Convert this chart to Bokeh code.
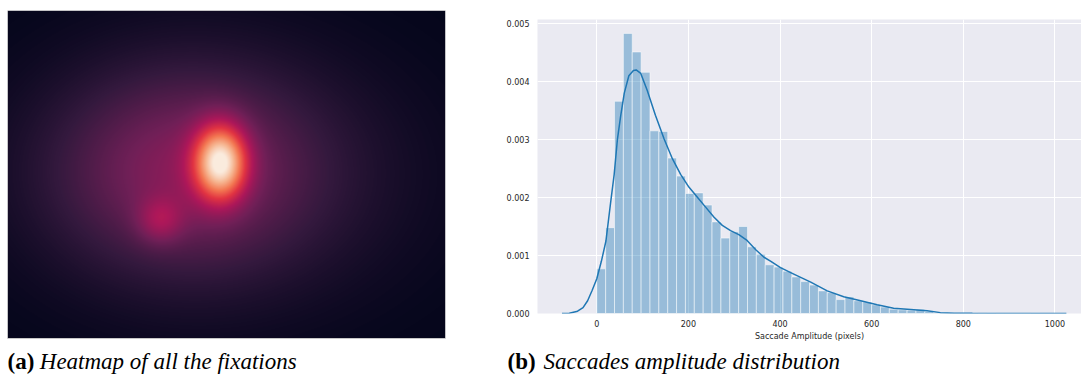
import numpy as np
from bokeh.plotting import figure
from bokeh.layouts import row, column
from bokeh.models import Range1d, FixedTicker, PrintfTickFormatter, LinearColorMapper
from bokeh.core.properties import value
from bokeh.embed import file_html
from bokeh.resources import INLINE

# ---------------- data: saccade amplitude histogram (density) ----------------
BIN_START = 0.0
BIN_WIDTH = 19.35
BIN_DENSITY = [0.00077, 0.00148, 0.00366, 0.00483, 0.00451, 0.00416, 0.00315, 0.00314,
               0.00268, 0.00237, 0.00207, 0.00208, 0.00187, 0.00158, 0.00130, 0.00141,
               0.00150, 0.00115, 0.00102, 0.00084, 0.00080, 0.00073, 0.00063, 0.00055,
               0.00049, 0.00039, 0.00036, 0.00024, 0.00029, 0.00022, 0.00020, 0.00015,
               0.00011, 0.000075, 0.000063, 0.000058, 0.000075, 0.000035, 0.00001, 0.00001,
               0.000005, 0.000005, 0.000005, 0.0, 0.000005, 0.0, 0.0, 0.0, 0.0, 0.000005]
KDE_X = [-76, -60, -42, -30, -20, -10, 0, 10, 20, 30, 38, 45, 52, 60, 70, 80, 86, 96,
         110, 128, 147, 165, 183, 201, 220, 238, 256, 274, 292, 310, 328, 347, 365, 380,
         401, 430, 467, 503, 539, 576, 612, 648, 685, 721, 750, 780, 820, 900, 1025]
KDE_Y = [0.0, 0.000005, 0.00004, 0.0001, 0.00022, 0.0004, 0.0006, 0.0009, 0.00125, 0.0019,
         0.0024, 0.0030, 0.0034, 0.0038, 0.0041, 0.00419, 0.0042, 0.00414, 0.00385, 0.00342,
         0.00301, 0.00267, 0.0024, 0.00218, 0.0020, 0.00183, 0.00166, 0.00152, 0.00143,
         0.00136, 0.00126, 0.0011, 0.00097, 0.0009, 0.00079, 0.00068, 0.00054, 0.00039,
         0.00029, 0.00022, 0.00015, 0.000092, 0.000069, 0.000046, 0.000015, 0.000006,
         0.000004, 0.000002, 0.0]
X_TICKS = [0, 200, 400, 600, 800, 1000]
Y_TICKS = [0.0, 0.001, 0.002, 0.003, 0.004, 0.005]
X_LABEL = "Saccade Amplitude (pixels)"

# ---------------- data: fixation heatmap (density components) -------------
SCREEN_W, SCREEN_H = 800, 600
BLOB_X = [389, 279, 320, 402]
BLOB_Y = [322, 216, 308, 298]
BLOB_SX = [33, 29, 164, 250]
BLOB_SY = [47, 29, 128, 170]
BLOB_AMP = [0.72, 0.17, 0.25, 0.10]
ROCKET_ANCHORS = ["#03051a", "#35193e", "#701f57", "#ad1759", "#e13342", "#f37651",
                  "#f6b48f", "#faebdd"]

CAPTION_A = ("(a)", "Heatmap of all the fixations")
CAPTION_B = ("(b)", "Saccades amplitude distribution")
CAP_FONT = "Liberation Serif"
CAP_SIZE = "23px"

# ---------------- palette ----------------
def hex2rgb(h):
    return [int(h[i:i + 2], 16) for i in (1, 3, 5)]

anc = np.array([hex2rgb(c) for c in ROCKET_ANCHORS], dtype=float)
pos = np.linspace(0, 1, len(ROCKET_ANCHORS))
t = np.linspace(0, 1, 256)
palette = ["#%02x%02x%02x" % tuple(int(round(np.interp(v, pos, anc[:, k]))) for k in range(3))
           for v in t]

# ---------------- heatmap panel (frame includes caption strip) ----------------
NX, NY = 438, 328
gx = (np.arange(NX) + 0.5) * SCREEN_W / NX
gy = (np.arange(NY) + 0.5) * SCREEN_H / NY
XX, YY = np.meshgrid(gx, gy)
dens = np.zeros_like(XX)
for bx, by, sx, sy, a in zip(BLOB_X, BLOB_Y, BLOB_SX, BLOB_SY, BLOB_AMP):
    dens += a * np.exp(-((XX - bx) ** 2) / (2 * sx ** 2) - ((YY - by) ** 2) / (2 * sy ** 2))

upx = SCREEN_H / NY              # data units per screen pixel (vertical)
upx_x = SCREEN_W / NX            # data units per screen pixel (horizontal)
mapper = LinearColorMapper(palette=palette, low=0.0, high=1.0)
p1 = figure(width=490, height=374, output_backend="svg", toolbar_location=None,
            x_range=Range1d(0, SCREEN_W), y_range=Range1d(-36 * upx, SCREEN_H),
            x_axis_location=None, y_axis_location=None, frame_align=False,
            min_border_left=7, min_border_right=45, min_border_top=10, min_border_bottom=0)
p1.grid.visible = False
p1.outline_line_color = None
p1.background_fill_color = "white"
p1.border_fill_color = "white"
p1.image(image=[dens], x=0, y=0, dw=SCREEN_W, dh=SCREEN_H, color_mapper=mapper)
p1.rect(x=SCREEN_W / 2, y=SCREEN_H / 2, width=SCREEN_W, height=SCREEN_H,
        fill_color=None, line_color="#c8c8c8", line_width=1)
cap_y = -22.5 * upx
p1.text(x=[0], y=[cap_y], text=[CAPTION_A[0]], text_font=value(CAP_FONT),
        text_font_size=CAP_SIZE, text_font_style="bold", text_baseline="alphabetic",
        text_color="black")
p1.text(x=[32.3 * upx_x], y=[cap_y], text=[CAPTION_A[1]], text_font=value(CAP_FONT),
        text_font_size=CAP_SIZE, text_font_style="italic", text_baseline="alphabetic",
        text_color="black")

# ---------------- histogram panel ----------------
XR = (-129.4, 1058)
YR = (0, 0.00507)
p2 = figure(width=591, height=345, output_backend="svg", toolbar_location=None,
            x_range=Range1d(*XR), y_range=Range1d(*YR), frame_align=False,
            min_border_left=47, min_border_right=0, min_border_top=19, min_border_bottom=32)
p2.background_fill_color = "#eaeaf2"
p2.border_fill_color = "white"
p2.outline_line_color = None

edges = BIN_START + BIN_WIDTH * np.arange(len(BIN_DENSITY) + 1)
p2.quad(left=edges[:-1], right=edges[1:], bottom=0, top=BIN_DENSITY,
        fill_color="#1f77b4", fill_alpha=0.4, line_color="white", line_alpha=0.5, line_width=1)
p2.line(KDE_X, KDE_Y, line_color="#1f77b4", line_width=1.5)

p2.xaxis.ticker = FixedTicker(ticks=X_TICKS)
p2.yaxis.ticker = FixedTicker(ticks=Y_TICKS)
p2.yaxis.formatter = PrintfTickFormatter(format="%.3f")
p2.xaxis.axis_label = X_LABEL
for ax in (p2.xaxis, p2.yaxis):
    ax.axis_line_color = None
    ax.major_tick_line_color = None
    ax.minor_tick_line_color = None
    ax.major_tick_out = 0
    ax.major_tick_in = 0
    ax.major_label_text_font = "DejaVu Sans"
    ax.major_label_text_font_size = "8px"
    ax.major_label_text_color = "#262626"
    ax.axis_label_text_font = "DejaVu Sans"
    ax.axis_label_text_font_size = "8px"
    ax.axis_label_text_font_style = "normal"
    ax.axis_label_text_color = "#262626"
p2.xaxis.major_label_standoff = 6
p2.xaxis.axis_label_standoff = 2
p2.yaxis.major_label_standoff = 8
p2.grid.grid_line_color = "white"
p2.grid.grid_line_width = 1

# caption strip under the histogram
c2 = figure(width=591, height=29, output_backend="svg", toolbar_location=None,
            x_range=Range1d(0, 591), y_range=Range1d(29, 0), frame_align=False,
            x_axis_location=None, y_axis_location=None, min_border=0,
            min_border_left=0, min_border_right=0, min_border_top=0, min_border_bottom=0)
c2.grid.visible = False
c2.outline_line_color = None
c2.background_fill_color = "white"
c2.border_fill_color = "white"
c2.text(x=[17], y=[15.5], text=[CAPTION_B[0]], text_font=value(CAP_FONT),
        text_font_size=CAP_SIZE, text_font_style="bold", text_baseline="alphabetic",
        text_color="black")
c2.text(x=[53], y=[15.5], text=[CAPTION_B[1]], text_font=value(CAP_FONT),
        text_font_size=CAP_SIZE, text_font_style="italic", text_baseline="alphabetic",
        text_color="black")

layout = row(p1, column(p2, c2, spacing=0), spacing=0)
open("out.html", "w").write(file_html(layout, INLINE))
